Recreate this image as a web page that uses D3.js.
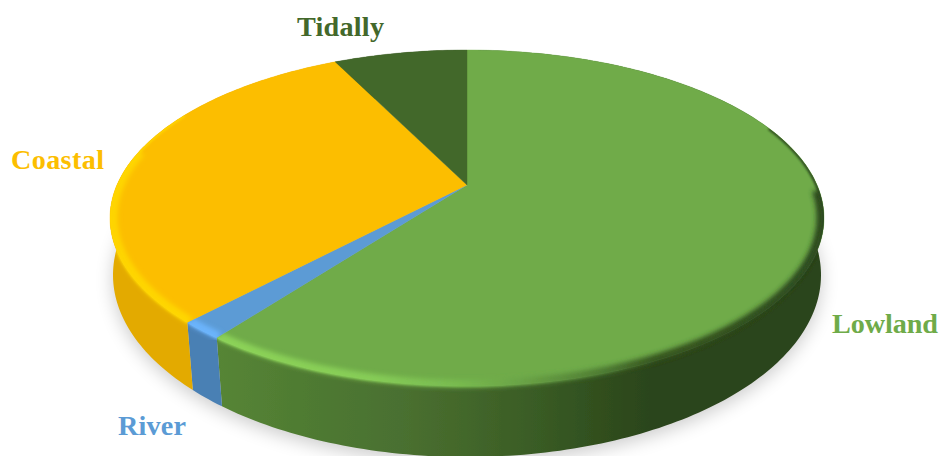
<!DOCTYPE html>
<html>
<head>
<meta charset="utf-8">
<script src="https://cdnjs.cloudflare.com/ajax/libs/d3/7.8.5/d3.min.js"></script>
<style>
html,body{margin:0;padding:0;background:#fff;overflow:hidden}
svg{display:block}
text{font-family:"Liberation Serif",serif;font-weight:bold;font-size:28.2px}
</style>
</head>
<body>
<svg id="chart" width="941" height="456"></svg>
<script>
// Share of each land type, clockwise from twelve o'clock
const categories = ["Lowland", "River", "Coastal", "Tidally"];
const shares = [60.3, 1.7, 30.7, 7.3];
const faceColors = ["#6fab49", "#5b9bd5", "#fcbe00", "#43682b"];

// Rim and wall tones by position across the disc
const wallStops = [
  [[0, "#568536"], [0.14, "#4f7b32"], [0.3, "#4a7030"], [0.42, "#42662a"], [0.54, "#385a24"], [0.62, "#31501f"], [0.72, "#2b441a"], [1, "#2c451b"]],
  [[0, "#4a80b4"], [1, "#4a80b4"]],
  [[0, "#e3aa00"], [1, "#d8a200"]],
  [[0, "#2f4a1e"], [1, "#2f4a1e"]]
];
const rimStops = [
  [[0, "#8fd65a"], [0.25, "#88cf58"], [0.4, "#78bb50"], [0.5, "#6aa346"], [0.63, "#4d7a32"], [0.72, "#33511f"], [1, "#26401a"]],
  [[0, "#6db6ff"], [1, "#6db6ff"]],
  [[0, "#ffd800"], [1, "#ffd800"]],
  [[0, "#43682b"], [1, "#43682b"]]
];

// Perspective ellipses of the upper face and the lower edge
const topDisc = {cx: 467, cy: 218, rx: 357, ry: 168, hub: 33};
const baseDisc = {cx: 467, cy: 275, rx: 354, ry: 182, hub: 32.6};

// Projects a point on the unit disc (angle clockwise from the far side) to the screen
function project(disc, angle, radius = 1) {
  const u = radius * Math.sin(angle), v = radius * Math.cos(angle);
  const p = disc.hub / disc.ry;
  const w = 1 + p * v;
  const width = disc.rx * Math.sqrt(1 - p * p);
  return [disc.cx + width * u / w, disc.cy - (disc.ry * v + disc.hub) / w];
}

const svg = d3.select("#chart");
const defs = svg.append("defs");
const line = d3.line();
const pie = d3.pie().sort(null)(shares);
const xSpan = d3.scaleLinear().domain([0, 1]).range([218, 824]);
const deg = Math.PI / 180;

function blur(id, sd) {
  defs.append("filter").attr("id", id)
    .attr("x", "-20%").attr("y", "-20%").attr("width", "140%").attr("height", "140%")
    .append("feGaussianBlur").attr("stdDeviation", sd);
}
blur("soft-shadow", 9);
blur("soft-rim", 2.4);
blur("soft-thin", 1);
blur("soft-fine", 0.5);

function gradient(id, stops) {
  const g = defs.append("linearGradient").attr("id", id)
    .attr("gradientUnits", "userSpaceOnUse")
    .attr("x1", xSpan(0)).attr("x2", xSpan(1)).attr("y1", 0).attr("y2", 0);
  stops.forEach(s => g.append("stop").attr("offset", s[0]).attr("stop-color", s[1]));
}

function sampled(a0, a1) {
  const n = Math.max(2, Math.ceil((a1 - a0) / (1 * deg)));
  return d3.range(n + 1).map(i => a0 + (a1 - a0) * i / n);
}

const facePath = d => line(
  [project(topDisc, 0, 0)].concat(sampled(d.startAngle, d.endAngle).map(a => project(topDisc, a)))
) + "Z";

const wallPath = d => {
  const ts = sampled(d.startAngle, d.endAngle);
  return line(ts.map(a => project(topDisc, a))
    .concat(ts.slice().reverse().map(a => project(baseDisc, a)))) + "Z";
};

// Soft shadow on the ground below the disc
svg.append("path")
  .attr("d", line(sampled(0, 2 * Math.PI).map(a => project(baseDisc, a))) + "Z")
  .attr("transform", "translate(0,5)")
  .attr("fill", "#000").attr("opacity", 0.2)
  .attr("filter", "url(#soft-shadow)");

const chart = svg.append("g").attr("filter", "url(#soft-fine)");

pie.forEach((d, i) => {
  gradient("wall-" + i, wallStops[i]);
  gradient("rim-" + i, rimStops[i]);
});

// Outer walls first, then the faces on top of them
chart.selectAll("path.wall").data(pie).join("path")
  .attr("class", "wall")
  .attr("d", wallPath)
  .attr("fill", (d, i) => `url(#wall-${i})`);

chart.selectAll("path.face").data(pie).join("path")
  .attr("class", "face")
  .attr("d", facePath)
  .attr("fill", (d, i) => faceColors[i])
  .attr("stroke", (d, i) => faceColors[i])
  .attr("stroke-width", 0.4);

// Bevel along the near rim, confined to each slice: a broad band at the front
// that thins out into a fine line towards the far side
const bevels = [
  {from: 92, to: 282, width: 7, radius: 0.99, filter: "soft-rim"},
  {from: 68, to: 298, width: 2.5, radius: 0.998, filter: "soft-thin"}
];
pie.forEach((d, i) => {
  const clip = defs.append("clipPath").attr("id", "slice-" + i);
  clip.append("path").attr("d", facePath(d));
  clip.append("path").attr("d", wallPath(d));
  const host = chart.append("g").attr("clip-path", `url(#slice-${i})`);
  bevels.forEach(b => {
    const a0 = Math.max(d.startAngle, b.from * deg), a1 = Math.min(d.endAngle, b.to * deg);
    if (a1 <= a0) return;
    host.append("path")
      .attr("d", line(sampled(a0, a1).map(a => project(topDisc, a, b.radius))))
      .attr("fill", "none")
      .attr("stroke", `url(#rim-${i})`)
      .attr("stroke-width", b.width)
      .attr("filter", `url(#${b.filter})`);
  });
});

// Slice names beside the disc
const labelAnchor = {
  Lowland: [832, 333],
  River: [118, 435],
  Coastal: [11, 169],
  Tidally: [297, 36]
};
const labelWidth = {Lowland: 106, River: 68, Coastal: 93, Tidally: 87};
svg.selectAll("text.name").data(categories).join("text")
  .attr("class", "name")
  .attr("x", d => labelAnchor[d][0])
  .attr("y", d => labelAnchor[d][1])
  .attr("textLength", d => labelWidth[d])
  .attr("fill", (d, i) => faceColors[i])
  .text(d => d);
</script>
</body>
</html>
